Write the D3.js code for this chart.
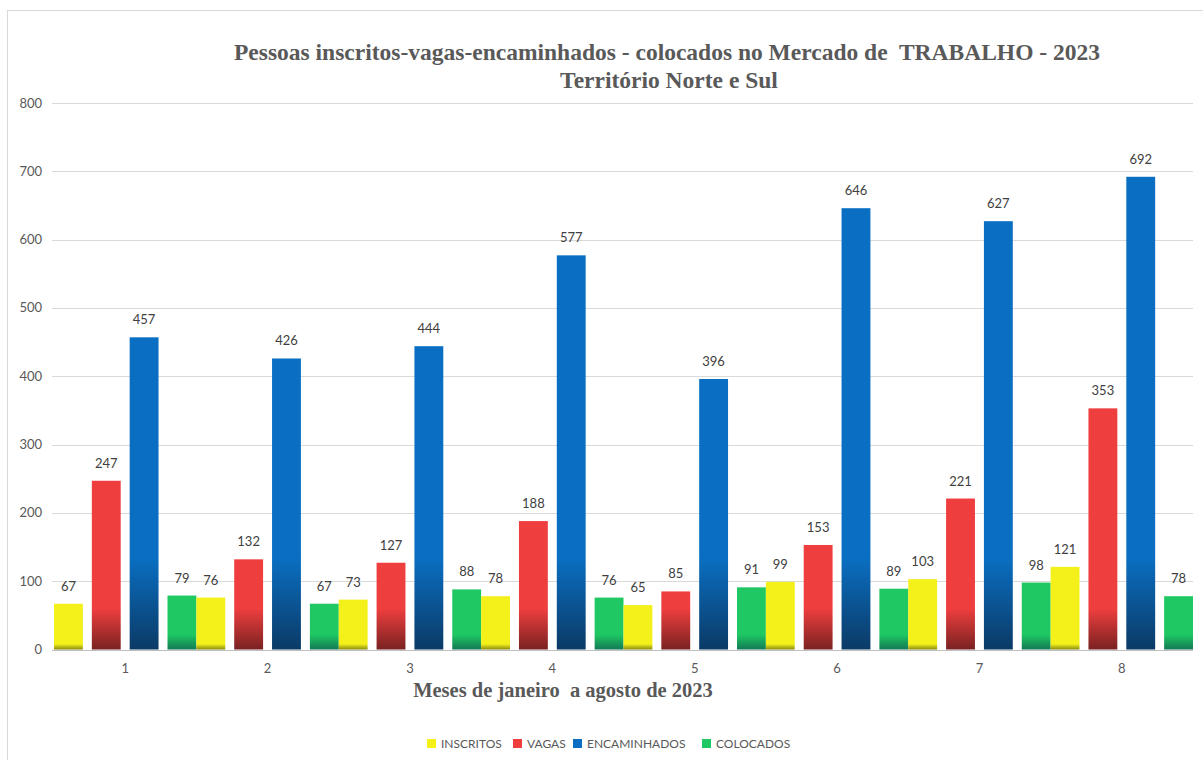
<!DOCTYPE html>
<html><head><meta charset="utf-8">
<script src="https://cdn.jsdelivr.net/npm/d3@7"></script>
<style>body{margin:0;background:#fff}svg{display:block}</style>
</head><body><div id="c"></div>
<script>
const months = ["1","2","3","4","5","6","7","8"];
const seriesNames = ["INSCRITOS","VAGAS","ENCAMINHADOS","COLOCADOS"];
const inscritos    = [67, 76, 73, 78, 65, 99, 103, 121];
const vagas        = [247, 132, 127, 188, 85, 153, 221, 353];
const encaminhados = [457, 426, 444, 577, 396, 646, 627, 692];
const colocados    = [79, 67, 88, 76, 91, 89, 98, 78];
const yTicks = [0,100,200,300,400,500,600,700,800];
const colors = ["#f3f01a","#ef3e3e","#0a6fc2","#1fc862"];
const darks  = ["#8a8a10","#7a2222","#0b3a66","#127a55"];
const gradTop = [8, 60, 135, 22];

const seriesData = [inscritos, vagas, encaminhados, colocados];
const W=1203,H=760;
const svg=d3.select("#c").append("svg").attr("width",W).attr("height",H);
svg.append("rect").attr("x",0).attr("y",0).attr("width",W).attr("height",H).attr("fill","#fff");
svg.append("rect").attr("x",7.5).attr("y",10.5).attr("width",1210).attr("height",800)
  .attr("fill","none").attr("stroke","#d9d9d9");

const x0=d3.scaleBand().domain(months).range([54,1193]).paddingInner(0).paddingOuter(0);
const x1=d3.scaleBand().domain(seriesNames).range([0,x0.bandwidth()]).paddingInner(0.237).paddingOuter(0);
const y=d3.scaleLinear().domain([0,800]).range([649.5,103]);
const lf="Lato, 'Open Sans', sans-serif";

// gridlines
svg.append("g").selectAll("line").data(yTicks).join("line")
  .attr("x1",52).attr("x2",1193).attr("y1",d=>Math.round(y(d))+0.5).attr("y2",d=>Math.round(y(d))+0.5)
  .attr("stroke",d=>d===0?"#bfbfbf":"#d9d9d9").attr("stroke-width",1);
svg.append("g").selectAll("text").data(yTicks).join("text")
  .attr("x",42).attr("y",d=>y(d)+4.5).attr("text-anchor","end")
  .attr("font-family",lf).attr("font-size",13).attr("fill","#595959")
  .text(d=>d);

// gradients
const defs=svg.append("defs");
seriesNames.forEach((s,i)=>{
  const g=defs.append("linearGradient").attr("id","g"+i).attr("gradientUnits","userSpaceOnUse")
    .attr("x1",0).attr("x2",0).attr("y1",y(gradTop[i])).attr("y2",y(0));
  g.append("stop").attr("offset","0").attr("stop-color",colors[i]);
  g.append("stop").attr("offset","1").attr("stop-color",darks[i]);
});

const rows=[];
months.forEach((m,mi)=>seriesNames.forEach((s,si)=>rows.push({m,s,si,v:seriesData[si][mi]})));

svg.append("g").selectAll("rect").data(rows).join("rect")
  .attr("x",d=>x0(d.m)+x1(d.s)).attr("width",x1.bandwidth())
  .attr("y",d=>y(d.v)).attr("height",d=>y(0)-y(d.v))
  .attr("fill",d=>"url(#g"+d.si+")");

svg.append("g").selectAll("text").data(rows).join("text")
  .attr("x",d=>x0(d.m)+x1(d.s)+x1.bandwidth()/2).attr("y",d=>y(d.v)-13)
  .attr("text-anchor","middle").attr("font-family",lf)
  .attr("font-size",13).attr("fill","#404040").text(d=>d.v);

// x tick labels
svg.append("g").selectAll("text").data(months).join("text")
  .attr("x",d=>x0(d)+x0.bandwidth()/2).attr("y",673).attr("text-anchor","middle")
  .attr("font-family",lf).attr("font-size",13).attr("fill","#595959").text(d=>d);

// titles
const tf="'Liberation Serif', 'Times New Roman', serif";
svg.append("text").attr("x",667).attr("y",60).attr("text-anchor","middle").attr("font-family",tf)
  .attr("font-weight","bold").attr("font-size",23.5).attr("fill","#595959").attr("xml:space","preserve")
  .text("Pessoas inscritos-vagas-encaminhados - colocados no Mercado de  TRABALHO - 2023");
svg.append("text").attr("x",669).attr("y",88).attr("text-anchor","middle").attr("font-family",tf)
  .attr("font-weight","bold").attr("font-size",23.5).attr("fill","#595959")
  .text("Território Norte e Sul");
svg.append("text").attr("x",563).attr("y",697).attr("text-anchor","middle").attr("font-family",tf)
  .attr("font-weight","bold").attr("font-size",20.5).attr("fill","#595959").attr("xml:space","preserve")
  .text("Meses de janeiro  a agosto de 2023");

// legend
const legX=[427,513,573,702];
const lg=svg.append("g").selectAll("g").data(seriesNames).join("g")
  .attr("transform",(d,i)=>`translate(${legX[i]},739)`);
lg.append("rect").attr("width",9).attr("height",9).attr("fill",(d,i)=>colors[i]);
lg.append("text").attr("x",14).attr("y",9).attr("font-family",lf)
  .attr("font-size",12).attr("fill","#595959").text(d=>d);
</script></body></html>
